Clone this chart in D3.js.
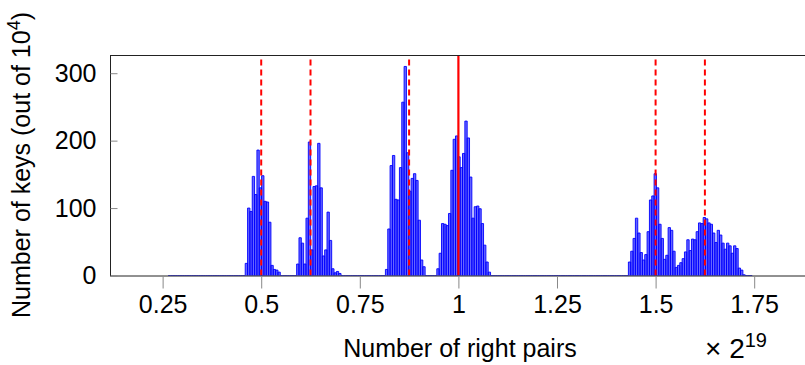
<!DOCTYPE html>
<html>
<head>
<meta charset="utf-8">
<script src="https://cdnjs.cloudflare.com/ajax/libs/d3/7.8.5/d3.min.js"></script>
<style>
  body { margin: 0; background: #fff; }
  svg { display: block; }
  text { font-family: "Liberation Sans", sans-serif; fill: #000; }
</style>
</head>
<body>
<svg id="chart" width="805" height="365"></svg>
<script>
// histogram bins span the data range, in units of 2^19
const binLo = 0.264;
const binHi = 1.745;
const binCount = 250;

// non-empty runs of bins: first bin index + counts (out of 10^4 keys)
const clusterStartBins = [33, 55, 93, 115, 197];
const clusterCounts = [
  [18, 100, 95, 147, 120, 186, 130, 148, 110, 109, 79, 15, 9, 8, 5],
  [17, 56, 48, 17, 85, 198, 38, 132, 133, 196, 130, 29, 38, 94, 52, 10, 4, 6, 3],
  [9, 69, 163, 178, 113, 112, 160, 257, 310, 182, 125, 144, 151, 141, 82, 23, 13],
  [10, 33, 77, 76, 74, 92, 156, 202, 207, 176, 160, 181, 229, 204, 146, 85, 102, 103, 99, 77, 45, 20, 5],
  [20, 36, 55, 85, 63, 34, 23, 31, 65, 112, 118, 151, 130, 76, 55, 24, 30, 71, 67, 36,
   12, 15, 19, 25, 35, 53, 37, 54, 53, 65, 78, 77, 86, 84, 78, 76, 63, 49, 67, 60,
   48, 39, 48, 44, 33, 44, 40, 11, 8, 1]
];

const dashedMarks = [0.5, 0.625, 0.875, 1.5, 1.625];
const solidMarks = [1];
const xTicks = [0.25, 0.5, 0.75, 1, 1.25, 1.5, 1.75];
const yTicks = [0, 100, 200, 300];
const xDomain = [0.1166, 1.8915];
const yDomain = [0, 327];

const W = 805, H = 365;
const margin = { left: 110, right: -5, top: 55, bottom: 89.5 };
const plotRight = W - margin.right;
const plotBottom = H - margin.bottom;

const svg = d3.select('#chart');

const x = d3.scaleLinear().domain(xDomain).range([margin.left, plotRight]);
const y = d3.scaleLinear().domain(yDomain).range([plotBottom, margin.top]);

// expand runs into the full bin table
const binWidth = (binHi - binLo) / binCount;
const counts = new Array(binCount).fill(0);
clusterStartBins.forEach((start, k) => {
  clusterCounts[k].forEach((c, j) => { counts[start + j] = c; });
});
const bins = counts.map((c, i) => ({
  x0: binLo + i * binWidth,
  x1: binLo + (i + 1) * binWidth,
  count: c
}));

svg.append('clipPath').attr('id', 'plot-clip')
  .append('rect')
  .attr('x', margin.left).attr('y', margin.top)
  .attr('width', plotRight - margin.left).attr('height', plotBottom - margin.top);

const plot = svg.append('g').attr('clip-path', 'url(#plot-clip)');

// bars (zero bins collapse to the blue baseline)
plot.append('g')
  .selectAll('path.bar')
  .data(bins)
  .join('path')
  .attr('class', 'bar')
  .attr('d', d => {
    const a = x(d.x0), b = x(d.x1), y0 = y(0), y1 = y(d.count);
    return `M${a},${y0}V${y1}H${b}V${y0}Z`;
  })
  .attr('fill', '#0000ff')
  .attr('fill-opacity', 0.6)
  .attr('stroke', '#0000ff')
  .attr('stroke-width', 0.9);

// reference lines
plot.append('g')
  .selectAll('line')
  .data(dashedMarks)
  .join('line')
  .attr('x1', d => x(d)).attr('x2', d => x(d))
  .attr('y1', y(0)).attr('y2', margin.top)
  .attr('stroke', '#ff0000')
  .attr('stroke-width', 2)
  .attr('stroke-dasharray', '6,4');

plot.append('g')
  .selectAll('line')
  .data(solidMarks)
  .join('line')
  .attr('x1', d => x(d)).attr('x2', d => x(d))
  .attr('y1', y(0)).attr('y2', margin.top)
  .attr('stroke', '#ff0000')
  .attr('stroke-width', 2.2);

// frame
svg.append('rect')
  .attr('x', margin.left + 0.5).attr('y', margin.top + 0.5)
  .attr('width', plotRight - margin.left).attr('height', plotBottom - margin.top)
  .attr('fill', 'none')
  .attr('stroke', '#222')
  .attr('stroke-width', 1);

// x axis: ticks below the frame
const xAxis = d3.axisBottom(x)
  .tickValues(xTicks)
  .tickFormat(d3.format('~g'))
  .tickSizeInner(12).tickSizeOuter(0).tickPadding(7);
const gx = svg.append('g')
  .attr('transform', `translate(0,${plotBottom + 1})`)
  .call(xAxis);
gx.select('.domain').remove();
gx.selectAll('.tick line').attr('stroke', '#888');
gx.selectAll('.tick text')
  .attr('font-size', 25).attr('font-family', 'Liberation Sans, sans-serif').attr('fill', '#000');

// y axis: ticks inside the frame
const yAxis = d3.axisLeft(y)
  .tickValues(yTicks)
  .tickSizeInner(-7).tickSizeOuter(0).tickPadding(14);
const gy = svg.append('g')
  .attr('transform', `translate(${margin.left + 0.5},0)`)
  .call(yAxis);
gy.select('.domain').remove();
gy.selectAll('.tick line').attr('stroke', '#888');
gy.selectAll('.tick text')
  .attr('font-size', 25).attr('font-family', 'Liberation Sans, sans-serif').attr('fill', '#000');

// axis titles
svg.append('text')
  .attr('x', (margin.left + 810) / 2)
  .attr('y', 357)
  .attr('text-anchor', 'middle')
  .attr('font-size', 25)
  .text('Number of right pairs');

const scaleNote = svg.append('text')
  .attr('x', 705)
  .attr('y', 358)
  .attr('font-size', 28);
scaleNote.append('tspan').text('\u00d7 2');
scaleNote.append('tspan').attr('dy', -11).attr('font-size', 20).text('19');

const yTitle = svg.append('text')
  .attr('transform', 'translate(30,165) rotate(-90)')
  .attr('text-anchor', 'middle')
  .attr('font-size', 25);
yTitle.append('tspan').text('Number of keys (out of 10');
yTitle.append('tspan').attr('dy', -10).attr('font-size', 18).text('4');
yTitle.append('tspan').attr('dy', 10).text(')');
</script>
</body>
</html>
